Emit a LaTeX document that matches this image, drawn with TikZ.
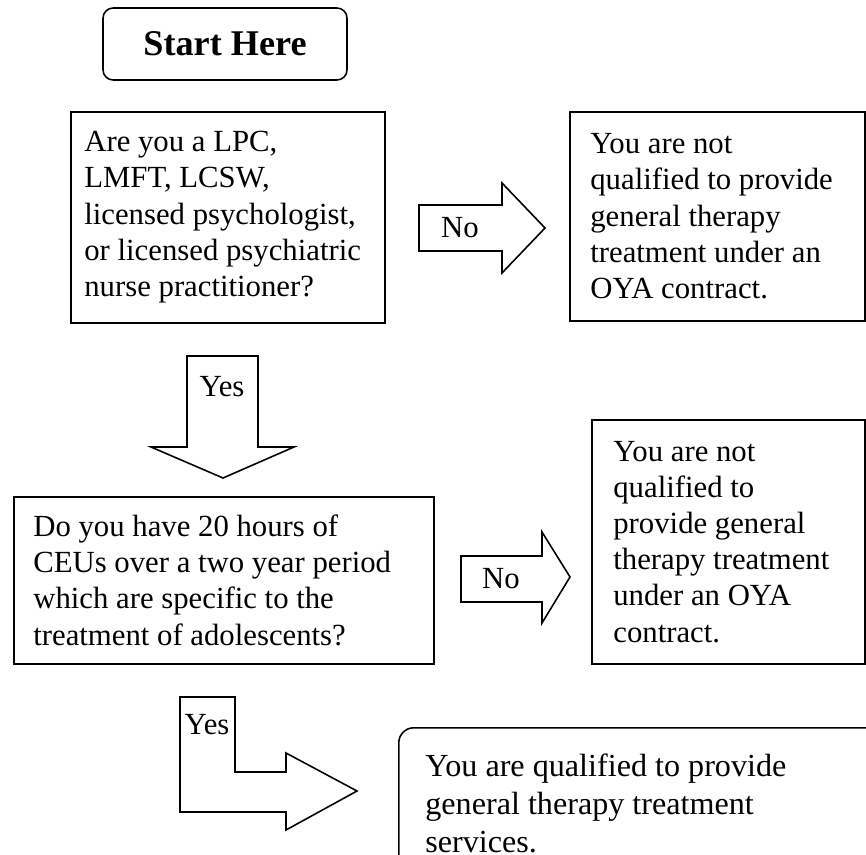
\documentclass[tikz,border=0pt]{standalone}
\usepackage{fontspec}
\setmainfont{Liberation Serif}
\tikzstyle{qbox} = [rectangle, draw, line width=0.9pt, anchor=north west, inner sep=0pt]
\tikzstyle{startbox} = [rectangle, draw, line width=0.9pt, rounded corners=0.2cm, minimum width=4.88cm, minimum height=1.44cm, font=\fontsize{20.6}{24}\selectfont\bfseries]
\tikzstyle{endbox} = [qbox, rounded corners=0.3cm]
\tikzstyle{qtext} = [anchor=west, align=left, inner sep=0pt, font=\fontsize{17.5}{20.6}\selectfont]
\tikzstyle{bigtext} = [qtext, font=\fontsize{18.3}{21.6}\selectfont]
\tikzstyle{bigarrow} = [draw, line width=0.9pt, line join=miter]
\tikzstyle{answer} = [inner sep=0pt, font=\fontsize{17.5}{20.6}\selectfont]

\begin{document}
\begin{tikzpicture}[x=0.02cm, y=-0.02cm]
  \useasboundingbox (0,0) rectangle (866,855);

  \node[startbox] (start) at (225,44) {Start Here};

  \node[qbox, minimum width=6.28cm, minimum height=4.22cm] (licensed) at (70,111) {};
  \node[qtext] (licensedtext) at ([xshift=0.28cm]licensed.west)
    {Are you a LPC,\\LMFT, LCSW,\\licensed psychologist,\\or licensed psychiatric\\nurse practitioner?};

  \node[qbox, minimum width=5.9cm, minimum height=4.18cm] (notlic) at (569,111) {};
  \node[qtext] (notlictext) at ([xshift=0.42cm]notlic.west)
    {You are not\\qualified to provide\\general therapy\\treatment under an\\OYA contract.};

  \node[qbox, minimum width=8.4cm, minimum height=3.34cm] (ceus) at (13,496) {};
  \node[qtext] (ceustext) at ([xshift=0.4cm]ceus.west)
    {Do you have 20 hours of\\CEUs over a two year period\\which are specific to the\\treatment of adolescents?};

  \node[qbox, minimum width=5.46cm, minimum height=4.88cm] (noceus) at (591,419) {};
  \node[qtext] (noceustext) at ([xshift=0.44cm]noceus.west)
    {You are not\\qualified to\\provide general\\therapy treatment\\under an OYA\\contract.};

  \node[endbox, minimum width=10cm, minimum height=3.04cm] (qualified) at (398,727) {};
  \node[bigtext] (qualifiedtext) at ([xshift=0.54cm]qualified.west)
    {You are qualified to provide\\general therapy treatment\\services.};

  % block arrows
  \path[bigarrow] (419,205) -- (502,205) -- (502,183) -- (545,228) -- (502,273)
    -- (502,251) -- (419,251) -- cycle;
  \node[answer] (no1) at (460,228) {No};

  \path[bigarrow] (187,356) -- (258,356) -- (258,447) -- (294,447) -- (223,478)
    -- (151,447) -- (187,447) -- cycle;
  \node[answer] (yes1) at (222,387) {Yes};

  \path[bigarrow] (461,556) -- (542,556) -- (542,532) -- (570,577) -- (542,623)
    -- (542,602) -- (461,602) -- cycle;
  \node[answer] (no2) at (501,579) {No};

  \path[bigarrow] (180,697) -- (235,697) -- (235,772) -- (286,772) -- (286,753)
    -- (357,791) -- (286,830) -- (286,812) -- (180,812) -- cycle;
  \node[answer] (yes2) at (207,725) {Yes};

\end{tikzpicture}
\end{document}
